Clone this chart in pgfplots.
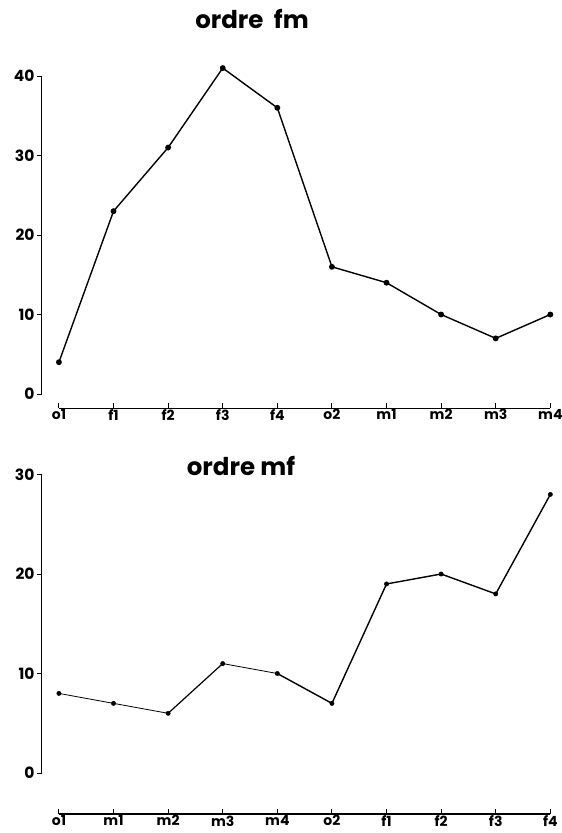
\documentclass[border=0pt]{standalone}
\usepackage{fontspec}
\setmainfont{Poppins}
\usepackage{pgfplots}
\pgfplotsset{compat=1.18}
\pgfplotsset{
  myaxis/.style={
    x=54.6pt, xmin=-0.31, xmax=9.05,
    axis lines=left, axis line style={draw=none},
    enlargelimits=false, clip=false,
    tick align=inside,
    major tick length=5pt,
    tick style={black, line width=1pt},
    ytick style={xshift=-5pt},
    xtick={0,...,9},
    /pgf/number format/assume math mode=true,
    yticklabel style={font=\bfseries\fontsize{15.5}{16}\selectfont, xshift=-4pt},
    xticklabel style={font=\bfseries\fontsize{14}{14}\selectfont, yshift=2pt},
  }
}
\begin{document}
\begin{tikzpicture}[x=1pt,y=1pt]
\path[use as bounding box] (0,0) rectangle (562,-833);
% ---------------- top: ordre fm
\begin{axis}[myaxis,
  at={(42pt,-408pt)}, anchor=south west,
  y=7.95pt, ymin=-1.76, ymax=43,
  ytick={0,10,20,30,40},
  xticklabels={o1,f1,f2,f3,f4,o2,m1,m2,m3,m4},
]
\draw[line width=1pt] (axis cs:-0.31,0) -- (axis cs:-0.31,40);
\draw[line width=1pt] (axis cs:0,-1.76) -- (axis cs:9,-1.76);
\addplot[black, line width=1.4pt, mark=*, mark size=2.2pt] coordinates {
 (0,4) (1,23) (2,31) (3,41) (4,36) (5,16) (6,14) (7,10) (8,7) (9,10)};
\end{axis}
\node[font=\bfseries\fontsize{24.5}{26}\selectfont, anchor=base] at (252,-28) {ordre\ \ fm};
% ---------------- bottom: ordre mf
\begin{axis}[myaxis,
  at={(42pt,-814pt)}, anchor=south west,
  y=9.95pt, ymin=-4.12, ymax=31,
  ytick={0,10,20,30},
  xticklabels={o1,m1,m2,m3,m4,o2,f1,f2,f3,f4},
]
\draw[line width=1pt] (axis cs:-0.31,0) -- (axis cs:-0.31,30);
\draw[line width=1.2pt] (axis cs:0,-4.12) -- (axis cs:9,-4.12);
\addplot[black, line width=0.8pt] coordinates {(0,8) (1,7) (2,6)};
\addplot[black, line width=1.2pt] coordinates {(2,6) (3,11)};
\addplot[black, line width=0.8pt] coordinates {(3,11) (4,10)};
\addplot[black, line width=1.4pt] coordinates {(4,10) (5,7) (6,19) (7,20) (8,18) (9,28)};
\addplot[black, only marks, mark=*, mark size=2.2pt] coordinates {
 (0,8) (1,7) (2,6) (3,11) (4,10) (5,7) (6,19) (7,20) (8,18) (9,28)};
\end{axis}
\node[font=\bfseries\fontsize{24.5}{26}\selectfont, anchor=base] at (241,-475) {ordre mf};
\end{tikzpicture}
\end{document}
